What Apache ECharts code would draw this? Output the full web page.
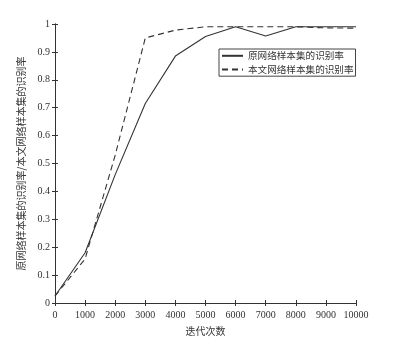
<!DOCTYPE html>
<html>
<head>
<meta charset="utf-8">
<script src="https://cdn.jsdelivr.net/npm/echarts@6/dist/echarts.min.js"></script>
<style>html,body{margin:0;padding:0;background:#fff;}#c{width:403px;height:356px;}</style>
</head>
<body>
<div id="c"></div>
<script>
var iterations = [0, 1000, 2000, 3000, 4000, 5000, 6000, 7000, 8000, 9000, 10000];
var originalRate = [0.025, 0.18, 0.46, 0.715, 0.885, 0.955, 0.99, 0.957, 0.99, 0.99, 0.99];
var proposedRate = [0.025, 0.158, 0.53, 0.95, 0.978, 0.99, 0.99, 0.99, 0.99, 0.986, 0.985];
var seriesNames = ['原网络样本集的识别率', '本文网络样本集的识别率'];
var xTitle = '迭代次数';
var yTitle = '原网络样本集的识别率/本文网络样本集的识别率';

function pairs(xs, ys) { return xs.map(function (x, i) { return [x, ys[i]]; }); }

var axisColor = '#333';
var serif = '"Liberation Serif", "Noto Sans CJK SC", serif';
var cjk = '"Noto Sans CJK SC", "Liberation Serif", serif';

var chart = echarts.init(document.getElementById('c'), null, { renderer: 'canvas' });
chart.setOption({
  backgroundColor: '#fff',
  animation: false,
  grid: { left: 55, right: 47, top: 24, bottom: 53 },
  legend: {
    orient: 'vertical',
    left: 219, top: 49,
    itemWidth: 21, itemHeight: 11, itemGap: 4,
    padding: [2, 2, 2, 2],
    borderColor: '#444', borderWidth: 1,
    backgroundColor: '#fff',
    itemStyle: { opacity: 0 },
    textStyle: { fontFamily: cjk, fontSize: 9.6, color: '#333' },
    data: seriesNames
  },
  xAxis: [{
    type: 'value', min: 0, max: 10000, interval: 1000,
    name: xTitle, nameLocation: 'middle', nameGap: 23,
    nameTextStyle: { fontFamily: cjk, fontSize: 10, color: '#333' },
    axisLine: { show: true, lineStyle: { color: axisColor, width: 1 } },
    axisTick: { show: true, inside: true, length: 3, lineStyle: { color: axisColor } },
    axisLabel: { fontFamily: serif, fontSize: 10, color: '#333', margin: 7,
      formatter: function (v) { return String(v); } },
    splitLine: { show: false }
  }, {
    type: 'value', min: 0, max: 10000, interval: 1000, position: 'top',
    axisLine: { show: true, lineStyle: { color: axisColor, width: 1 } },
    axisTick: { show: true, inside: true, length: 3, lineStyle: { color: axisColor } },
    axisLabel: { show: false }, splitLine: { show: false }
  }],
  yAxis: [{
    type: 'value', min: 0, max: 1, interval: 0.1,
    name: yTitle, nameLocation: 'middle', nameGap: 24,
    nameTextStyle: { fontFamily: cjk, fontSize: 10, color: '#333' },
    axisLine: { show: true, lineStyle: { color: axisColor, width: 1 } },
    axisTick: { show: true, inside: true, length: 3, lineStyle: { color: axisColor } },
    axisLabel: { fontFamily: serif, fontSize: 10, color: '#333', margin: 5,
      formatter: function (v) { return String(+v.toFixed(1)); } },
    splitLine: { show: false }
  }, {
    type: 'value', min: 0, max: 1, interval: 0.1, position: 'right',
    axisLine: { show: true, lineStyle: { color: axisColor, width: 1 } },
    axisTick: { show: true, inside: true, length: 3, lineStyle: { color: axisColor } },
    axisLabel: { show: false }, splitLine: { show: false }
  }],
  series: [{
    name: seriesNames[0], type: 'line', symbol: 'none',
    data: pairs(iterations, originalRate),
    lineStyle: { color: '#333', width: 1.1, type: 'solid' },
    itemStyle: { color: '#333' }
  }, {
    name: seriesNames[1], type: 'line', symbol: 'none',
    data: pairs(iterations, proposedRate),
    lineStyle: { color: '#333', width: 1.1, type: [6, 4] },
    itemStyle: { color: '#333' }
  }]
});
</script>
</body>
</html>
